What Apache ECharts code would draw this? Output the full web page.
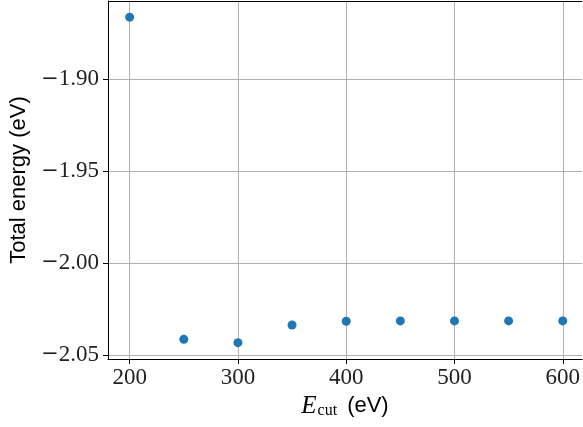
<!DOCTYPE html>
<html>
<head>
<meta charset="utf-8">
<script src="https://cdn.jsdelivr.net/npm/echarts@6/dist/echarts.min.js"></script>
<style>html,body{margin:0;padding:0;background:#fff;overflow:hidden}#c{width:583px;height:427px}</style>
</head>
<body>
<div id="c"></div>
<script>
const cutoffs = [200, 250, 300, 350, 400, 450, 500, 550, 600];
const energies = [-1.8663, -2.0415, -2.0433, -2.0337, -2.0317, -2.0315, -2.0315, -2.0315, -2.0315];
const xTicks = [200, 300, 400, 500, 600];
const yTicks = [-2.05, -2.00, -1.95, -1.90];

const chart = echarts.init(document.getElementById('c'), null, {renderer: 'canvas'});
const serif = 'Liberation Serif';
const xMin = 180, xMax = 617.8;
const fmtY = v => (v < 0 ? '{m|\u2212}' : '') + Math.abs(v).toFixed(2);
chart.setOption({
  animation: false,
  grid: {left: 108, right: 0, top: 1, bottom: 68, containLabel: false, show: false},
  xAxis: [{
    type: 'value', min: xMin, max: xMax,
    axisLine: {show: true, onZero: false, lineStyle: {color: '#000', width: 1}},
    axisTick: {show: true, length: 5, lineStyle: {color: '#000'}, customValues: xTicks},
    axisLabel: {customValues: xTicks, margin: 7, fontFamily: serif, fontSize: 23, color: '#222'},
    splitLine: {show: true, lineStyle: {color: '#b0b0b0', width: 1}},
    name: '{e|E}{s|cut}{n|(eV)}', nameLocation: 'middle', nameGap: 33,
    nameTextStyle: {rich: {
      e: {fontFamily: serif, fontStyle: 'italic', fontSize: 25, color: '#000'},
      s: {fontFamily: serif, fontSize: 16, color: '#000', padding: [9, 0, 0, 1]},
      n: {fontFamily: 'Liberation Sans', fontSize: 22, color: '#000', padding: [0, 0, 0, 10]}
    }}
  }],
  yAxis: {
    type: 'value', min: -2.0522, max: -1.8575,
    axisLine: {show: true, onZero: false, lineStyle: {color: '#000', width: 1}},
    axisTick: {show: true, length: 5, lineStyle: {color: '#000'}, customValues: yTicks},
    axisLabel: {customValues: yTicks, margin: 9, formatter: fmtY, fontFamily: serif, fontSize: 23, color: '#222',
      rich: {m: {fontFamily: 'DejaVu Serif', fontSize: 21, color: '#222'}}},
    splitLine: {show: true, lineStyle: {color: '#b0b0b0', width: 1}},
    name: 'Total energy (eV)', nameLocation: 'middle', nameGap: 78, nameRotate: 90,
    nameTextStyle: {fontFamily: 'Liberation Sans', fontSize: 22, color: '#000'}
  },
  series: [{
    type: 'scatter',
    data: cutoffs.map((x, i) => [x, energies[i]]),
    symbolSize: 9,
    itemStyle: {color: '#1f77b4', opacity: 1},
    markLine: {
      silent: true, symbol: 'none', animation: false,
      label: {show: false},
      lineStyle: {color: '#000', width: 1, type: 'solid'},
      data: [[{coord: [xMin, -1.8575]}, {coord: [xMax, -1.8575]}]]
    }
  }]
});
</script>
</body>
</html>
